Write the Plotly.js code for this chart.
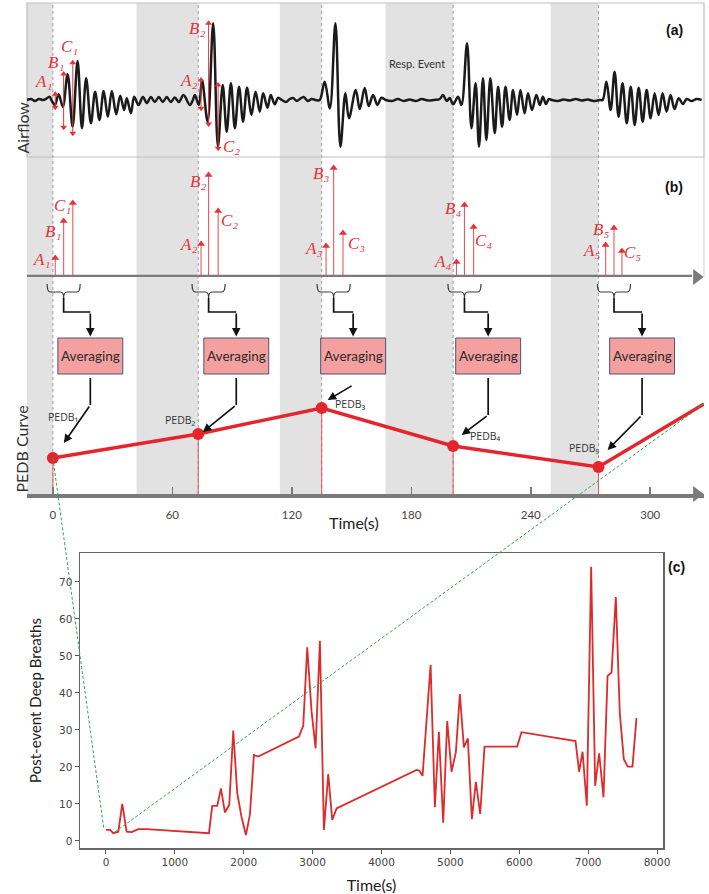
<!DOCTYPE html>
<html>
<head>
<meta charset="utf-8">
<script src="https://cdn.plot.ly/plotly-3.0.1.min.js"></script>
<style>
  html, body { margin: 0; padding: 0; background: #ffffff; }
  #chart { width: 709px; height: 894px; }
</style>
</head>
<body>
<div id="chart"></div>
<script>
// ---------------- data ----------------
// (a) airflow signal: time (s) and flow relative to the resting baseline
const airT = [-13.1, -11.0, -9.0, -7.0, -5.0, -3.5, -1.7, -0.5, 1.0, 2.9, 5.0, 7.4, 9.9, 12.4, 14.6, 16.7, 19.1, 21.2,
  23.4, 25.5, 27.6, 29.6, 31.8, 33.8, 35.8, 37.1, 39.2, 40.8, 43.0, 45.2, 47.2, 49.2, 51.2, 53.2, 55.2, 57.2, 59.2,
  61.2, 63.3, 65.6, 68.8, 70.3, 71.3, 73.3, 74.9, 77.7, 80.5, 82.9, 85.3, 87.3, 89.4, 91.4, 93.5, 95.5, 97.5, 99.7,
  101.8, 103.9, 105.6, 107.8, 109.4, 111.4, 113.1, 115.0, 117.0, 119.0, 120.6, 122.5, 124.0, 126.0, 128.0, 130.0,
  132.0, 134.0, 136.5, 139.1, 141.9, 144.4, 146.9, 148.7, 152.1, 154.1, 156.6, 158.6, 160.8, 163.0, 165.0, 167.2,
  170.2, 173.2, 176.2, 179.2, 182.2, 185.2, 188.3, 191.3, 194.3, 195.9, 197.8, 199.3, 201.0, 203.5, 205.2, 208.0,
  210.2, 212.3, 214.0, 216.0, 217.7, 219.7, 221.9, 223.6, 225.6, 227.3, 229.4, 231.1, 233.1, 234.8, 236.9, 238.6,
  240.6, 242.8, 244.6, 246.1, 247.6, 249.1, 250.5, 253.5, 256.5, 259.5, 262.6, 265.6, 268.6, 271.6, 274.6, 276.1,
  278.0, 280.1, 282.1, 284.1, 286.1, 288.2, 290.2, 292.2, 294.2, 296.2, 298.2, 300.2, 302.2, 304.2, 306.2, 308.2,
  310.2, 312.2, 314.3, 316.4, 318.3, 320.8, 323.3, 325.8];
const airV = [0, 1, -1, 1, 0, 1, 3.3, -1, -5, 5.7, -6.7, 25.7, -26.7, 39, -28.3, 21.7, -23.3, 8.3,
  -20, 9, -16.7, 9, -14.3, 4.3, -10, 1.7, -13.3, 3.3, -5, 3, -3, 3, -2, 3, -2, 3, -2,
  2.5, -2, 5, -5, 0, 5, -5, 20, -21.7, 76.7, -46.7, 15, -31.7, 16.7, -28.3, 13.3, -21.7, 12.3, -15,
  8.3, -11.7, 6.7, -7.7, 5, -4.3, 2.3, 0, -2, 1, 2, -1, 1, 3, -1, 1,
  0, 0, 18.3, -8.3, 76.7, -46.7, 6.7, -18.3, 10, -9, 12, -6, 5, -5, 2.3, 0,
  -1, 1, -1, 0.5, -1, 1, -0.5, 0, 1, 5, -1, 2, -4.3, 3.3, -5, 56.7,
  -28.3, 16.7, -46.7, 21.7, -40, 21.7, -33.3, 13.3, -26.7, 13.3, -20, 10, -15, 10, -13.3, 6.7,
  -10, 5, -5, 3.3, -4, 1, 0, -1, 0.5, -0.5, 1, -0.5, 0.5, -1, 0, 0,
  18.3, -10, 28.3, -16.7, 16.7, -23.3, 13.3, -25, 12.3, -21.7, 10, -18.3, 6.7, -15, 6.7, -11.7,
  5, -9, 1.7, -4, 1, -1, 1, 0];

// respiratory events (shaded) and the end of each event (dashed)
const evStart = [-13, 42, 114, 167, 250];
const evEnd = [0, 73, 135, 201, 274];

// first three post-event breaths: timing (s) and amplitude
const tA = [1.2, 74.4, 137.2, 202.7, 277.6];
const tB = [5.4, 78.2, 141.0, 206.7, 281.8];
const tC = [10.0, 83.0, 145.7, 211.3, 285.8];
const ampA = [19, 33, 31, 15, 32];
const ampB = [56, 102, 109, 72, 49];
const ampC = [74, 66, 44, 50, 26];

// swing of those breaths on the airflow trace for events 1 and 2 (trough, peak)
const loA = [-7.3, -8.3], hiA = [5.7, 20.0];
const loB = [-27.3, -24.0], hiB = [26.0, 76.7];
const loC = [-33.3, -48.3], hiC = [37.3, 15.0];

// PEDB value per event, plus where the curve continues
const pedbV = [36, 60, 86, 48, 27];
const pedbNextT = 327, pedbNextV = 90;

// time-axis ticks of the upper panels
const timeTicks = [0, 60, 120, 180, 240, 300];

// (c) whole-night post-event deep breaths
const pebT = [0, 60, 106, 179, 237, 300, 373, 469, 590, 1495, 1543, 1616, 1669, 1727, 1790, 1848, 1906, 1969,
  2032, 2090, 2148, 2211, 2801, 2864, 2922, 2985, 3043, 3106, 3164, 3227, 3285, 3348, 4509, 4548, 4596, 4713,
  4775, 4833, 4896, 4954, 5017, 5080, 5138, 5196, 5254, 5312, 5370, 5433, 5496, 5969, 6033, 6817, 6869, 6919,
  6981, 7044, 7102, 7160, 7223, 7282, 7340, 7402, 7460, 7518, 7576, 7644, 7702];
const pebV = [3, 3, 2.1, 2.5, 10, 2.5, 2.4, 3.2, 3.2, 2.1, 9.5, 9.5, 14.2, 7.7, 9.8, 29.8, 12.9, 6.4,
  1.6, 7.2, 23.2, 22.8, 28.2, 31.1, 52.3, 35, 25, 54.1, 3, 18.1, 5.7, 8.8, 19.2, 19, 17.6, 47.6,
  9.1, 29.5, 4.9, 32.4, 18.7, 24, 39.7, 25.3, 27.7, 5.9, 16, 7.3, 25.5, 25.5, 29.4, 27, 18.7, 24.1,
  9.5, 74.1, 14.9, 23.7, 11.8, 44.6, 45.5, 65.9, 34.5, 22.1, 20.1, 20.1, 33.2];
const xTicksC = [0, 1000, 2000, 3000, 4000, 5000, 6000, 7000, 8000];
const yTicksC = [0, 10, 20, 30, 40, 50, 60, 70];

// where the zoom connectors land on the whole-night curve
const zoomT = [-29, 106], zoomV = [3, 2.1];

// ---------------- geometry ----------------
const W = 709, H = 894;
const fx = p => p / W;
const fy = p => 1 - p / H;

const X_T = { domain: [fx(27), fx(704)], range: [-13, 327] };
const Y_A = { domain: [fy(157), fy(3)], range: [-57, 97] };
const Y_B = { domain: [fy(277), fy(157)], range: [0, 120] };
const Y_P = { domain: [fy(494), fy(278)], range: [0, 216] };
const X_C = { domain: [fx(80), fx(663)], range: [-377, 8087] };
const Y_C = { domain: [fy(848), fy(553)], range: [-1.9, 77.8] };
const toPaper = (ax, v) => ax.domain[0] + (v - ax.range[0]) / (ax.range[1] - ax.range[0]) * (ax.domain[1] - ax.domain[0]);

// flow-chart layout (x in seconds, y in PEDB-panel units)
const flow = {
  braceHalf: 8.3, braceTop: 210, braceBar: 202, braceNotch: 196, joinY: 182,
  boxTop: 156, boxBottom: 120, boxW: 32.6,
  boxLeft: [2.5, 75.8, 134.5, 202.3, 279.6],
  outStart: [116, 116, 109, 116, 116],
  elbowY: [89, 89, 109, 79, 79],
  tipT: [5.5, 75.3, 138.0, 205.3, 278.6],
  tipY: [51, 62, 94, 59, 44]
};

// label offsets (px) next to the stem tips in panel (b)
const stemLabelShift = {
  A: [[-14, -1], [-13, 0], [-13, -2], [-14, 1], [-14, -5]],
  B: [[-11, -10], [-11, -6], [-13, -5], [-11, -3], [-13, -1]],
  C: [[-10, -2], [11, -9], [13, -10], [10, -13], [11, -1]]
};

const RED = '#e3343b';
const AXIS_GREY = '#7a7a7a';
const SERIF = '"Liberation Serif", "DejaVu Serif", serif';
const SANS = 'Lato, "Open Sans", sans-serif';
const SUBS = ['₀', '₁', '₂', '₃', '₄', '₅', '₆', '₇', '₈', '₉'];

// ---------------- traces ----------------
const traces = [];

// airflow
traces.push({
  x: airT, y: airV, xaxis: 'x', yaxis: 'y', mode: 'lines',
  line: { color: '#1b1b1b', width: 2.5, shape: 'spline', smoothing: 1 }, hoverinfo: 'skip'
});

// double-headed amplitude arrows on the airflow trace
const swing = [[tA, loA, hiA], [tB, loB, hiB], [tC, loC, hiC]];
swing.forEach(([t, lo, hi]) => {
  const xs = [], ys = [];
  lo.forEach((l, i) => { xs.push(t[i], t[i], null); ys.push(l, hi[i], null); });
  traces.push({ x: xs, y: ys, xaxis: 'x', yaxis: 'y', mode: 'lines', line: { color: RED, width: 1 }, hoverinfo: 'skip' });
  traces.push({ x: t.slice(0, hi.length), y: hi, xaxis: 'x', yaxis: 'y', mode: 'markers',
    marker: { symbol: 'triangle-up', size: 6, color: RED }, hoverinfo: 'skip' });
  traces.push({ x: t.slice(0, lo.length), y: lo, xaxis: 'x', yaxis: 'y', mode: 'markers',
    marker: { symbol: 'triangle-down', size: 6, color: RED }, hoverinfo: 'skip' });
});

// (b) breath amplitude stems
[[tA, ampA], [tB, ampB], [tC, ampC]].forEach(([t, a]) => {
  const xs = [], ys = [];
  t.forEach((v, i) => { xs.push(v, v, null); ys.push(0, a[i], null); });
  traces.push({ x: xs, y: ys, xaxis: 'x', yaxis: 'y2', mode: 'lines', line: { color: '#e8585c', width: 1.1 }, hoverinfo: 'skip' });
  traces.push({ x: t, y: a, xaxis: 'x', yaxis: 'y2', mode: 'markers',
    marker: { symbol: 'triangle-up', size: 7, color: RED }, hoverinfo: 'skip' });
});

// (b) time arrow
traces.push({ x: [X_T.range[0], 321], y: [0, 0], xaxis: 'x', yaxis: 'y2', mode: 'lines',
  line: { color: AXIS_GREY, width: 4.5 }, cliponaxis: false, hoverinfo: 'skip' });
traces.push({ x: [323.3], y: [0], xaxis: 'x', yaxis: 'y2', mode: 'markers', cliponaxis: false,
  marker: { symbol: 'triangle-right', size: 14, color: AXIS_GREY }, hoverinfo: 'skip' });

// PEDB drop lines, curve and points
{
  const xs = [], ys = [];
  evEnd.forEach((t, i) => { xs.push(t, t, null); ys.push(0, pedbV[i], null); });
  traces.push({ x: xs, y: ys, xaxis: 'x', yaxis: 'y3', mode: 'lines', line: { color: '#e8585c', width: 1 }, hoverinfo: 'skip' });
}
traces.push({ x: evEnd.concat([pedbNextT]), y: pedbV.concat([pedbNextV]), xaxis: 'x', yaxis: 'y3', mode: 'lines',
  line: { color: '#e4262c', width: 3.5 }, cliponaxis: false, hoverinfo: 'skip' });
traces.push({ x: evEnd, y: pedbV, xaxis: 'x', yaxis: 'y3', mode: 'markers',
  marker: { symbol: 'circle', size: 12, color: '#e4262c' }, hoverinfo: 'skip' });

// time axis arrowhead
traces.push({ x: [323.3], y: [0], xaxis: 'x', yaxis: 'y3', mode: 'markers', cliponaxis: false,
  marker: { symbol: 'triangle-right', size: 14, color: AXIS_GREY }, hoverinfo: 'skip' });

// (c) whole-night curve
traces.push({ x: pebT, y: pebV, xaxis: 'x2', yaxis: 'y4', mode: 'lines',
  line: { color: '#dd2a2a', width: 1.8 }, hoverinfo: 'skip' });

// ---------------- shapes ----------------
const shapes = [];
const topPaper = fy(3), bottomPaper = fy(494);

evStart.forEach((s, i) => {
  shapes.push({ type: 'rect', xref: 'x', yref: 'paper', x0: s, x1: evEnd[i], y0: bottomPaper, y1: topPaper,
    fillcolor: '#e2e2e2', line: { width: 0 }, layer: 'below' });
});
evEnd.forEach(t => {
  shapes.push({ type: 'line', xref: 'x', yref: 'paper', x0: t, x1: t, y0: bottomPaper, y1: topPaper,
    line: { color: '#9c9c9c', width: 1, dash: '3px,3px' }, layer: 'below' });
});

// frames of panels (a) and (b)
shapes.push({ type: 'rect', xref: 'paper', yref: 'paper', x0: X_T.domain[0], x1: X_T.domain[1],
  y0: Y_A.domain[0], y1: Y_A.domain[1], line: { color: '#bdbdbd', width: 1.2 }, layer: 'below' });
shapes.push({ type: 'line', xref: 'paper', yref: 'paper', x0: X_T.domain[1], x1: X_T.domain[1],
  y0: Y_B.domain[0], y1: Y_B.domain[1], line: { color: '#cfcfcf', width: 1 }, layer: 'below' });

// braces, connectors and averaging boxes
tB.forEach((c, i) => {
  const x0 = c - flow.braceHalf, x1 = c + flow.braceHalf;
  const top = flow.braceTop, bar = flow.braceBar, n = flow.braceNotch;
  shapes.push({ type: 'path', xref: 'x', yref: 'y3',
    path: `M ${x0},${top} Q ${x0},${bar} ${x0 + 1.6},${bar} L ${c - 1.6},${bar} Q ${c},${bar} ${c},${n} ` +
          `Q ${c},${bar} ${c + 1.6},${bar} L ${x1 - 1.6},${bar} Q ${x1},${bar} ${x1},${top}`,
    line: { color: '#3a3a3a', width: 1.2 } });
  const bc = flow.boxLeft[i] + flow.boxW / 2;
  shapes.push({ type: 'path', xref: 'x', yref: 'y3',
    path: `M ${c},${n} L ${c},${flow.joinY} L ${bc},${flow.joinY}`,
    line: { color: '#111111', width: 1.7 } });
  shapes.push({ type: 'rect', xref: 'x', yref: 'y3', x0: flow.boxLeft[i], x1: flow.boxLeft[i] + flow.boxW,
    y0: flow.boxBottom, y1: flow.boxTop, fillcolor: '#f4a0a0', line: { color: '#4b5570', width: 1 } });
  shapes.push({ type: 'line', xref: 'x', yref: 'y3', x0: bc, x1: bc, y0: flow.outStart[i], y1: flow.elbowY[i],
    line: { color: '#111111', width: 1.7 } });
});

// zoom connectors between the PEDB curve and the whole-night curve
const green = { color: '#2ea84e', width: 1, dash: '3px,2px' };
shapes.push({ type: 'line', xref: 'paper', yref: 'paper',
  x0: toPaper(X_T, evEnd[0]), y0: toPaper(Y_P, pedbV[0]),
  x1: toPaper(X_C, zoomT[0]), y1: toPaper(Y_C, zoomV[0]), line: green });
shapes.push({ type: 'line', xref: 'paper', yref: 'paper',
  x0: toPaper(X_T, pedbNextT), y0: toPaper(Y_P, pedbNextV),
  x1: toPaper(X_C, zoomT[1]), y1: toPaper(Y_C, zoomV[1]), line: green });

// ---------------- annotations ----------------
const ann = [];
const redLabel = (text, x, yref, y, xs, ys) => ({
  text, x, y, xref: 'x', yref, showarrow: false, xshift: xs, yshift: ys,
  font: { family: SERIF, size: 17, color: RED, style: 'italic' }
});
const sub = (l, k) => l + SUBS[k];

// labels on the airflow arrows
ann.push(redLabel(sub('A', 1), tA[0], 'y', hiA[0], -12, 13));
ann.push(redLabel(sub('B', 1), tB[0], 'y', hiB[0], -8, 12));
ann.push(redLabel(sub('C', 1), tC[0], 'y', hiC[0], -3, 16));
ann.push(redLabel(sub('A', 2), tA[1], 'y', hiA[1], -13, 0));
ann.push(redLabel(sub('B', 2), tB[1], 'y', hiB[1], -12, -5));
ann.push(redLabel(sub('C', 2), tC[1], 'y', loC[1], 13, 2));

// labels on the stems
tA.forEach((t, i) => {
  const k = i + 1;
  ann.push(redLabel(sub('A', k), tA[i], 'y2', ampA[i], stemLabelShift.A[i][0], stemLabelShift.A[i][1]));
  ann.push(redLabel(sub('B', k), tB[i], 'y2', ampB[i], stemLabelShift.B[i][0], stemLabelShift.B[i][1]));
  ann.push(redLabel(sub('C', k), tC[i], 'y2', ampC[i], stemLabelShift.C[i][0], stemLabelShift.C[i][1]));
});

// flow-chart arrows and texts
const pedbShift = [[10, 41], [-18, 14], [29, 4], [32, 10], [-14, 19]];
tB.forEach((c, i) => {
  const bc = flow.boxLeft[i] + flow.boxW / 2;
  ann.push({ x: bc, y: flow.boxTop + 1.5, xref: 'x', yref: 'y3', ax: bc, ay: flow.joinY, axref: 'x', ayref: 'y3',
    showarrow: true, arrowhead: 2, arrowsize: 1, arrowwidth: 1.7, arrowcolor: '#111111', text: '' });
  ann.push({ x: flow.tipT[i], y: flow.tipY[i], xref: 'x', yref: 'y3', ax: bc, ay: flow.elbowY[i], axref: 'x', ayref: 'y3',
    showarrow: true, arrowhead: 2, arrowsize: 1, arrowwidth: 1.7, arrowcolor: '#111111', text: '' });
  ann.push({ text: 'Averaging', x: bc, y: (flow.boxTop + flow.boxBottom) / 2, xref: 'x', yref: 'y3', showarrow: false,
    font: { family: SANS, size: 13.5, color: '#2a2a2a' } });
  ann.push({ text: 'PEDB' + SUBS[i + 1], x: evEnd[i], y: pedbV[i], xref: 'x', yref: 'y3', showarrow: false,
    xshift: pedbShift[i][0], yshift: pedbShift[i][1],
    font: { family: '"Open Sans", "DejaVu Sans", sans-serif', size: 10.5, color: '#333333' } });
});

ann.push({ text: 'Resp. Event', x: 183, y: fy(55), xref: 'x', yref: 'paper', showarrow: false,
  font: { family: SANS, size: 11, color: '#333333' } });
ann.push({ text: '(a)', x: fx(685), y: fy(20), xref: 'paper', yref: 'paper', showarrow: false,
  font: { family: '"Liberation Sans", Arial, sans-serif', size: 14, color: '#111111', weight: 'bold' } });
ann.push({ text: '(b)', x: fx(685), y: fy(177), xref: 'paper', yref: 'paper', showarrow: false,
  font: { family: '"Liberation Sans", Arial, sans-serif', size: 14, color: '#111111', weight: 'bold' } });
ann.push({ text: '(c)', x: fx(687), y: fy(567), xref: 'paper', yref: 'paper', showarrow: false,
  font: { family: '"Liberation Sans", Arial, sans-serif', size: 14, color: '#111111', weight: 'bold' } });
ann.push({ text: 'Airflow', x: fx(10), y: fy(100), xref: 'paper', yref: 'paper', showarrow: false, textangle: -90,
  font: { family: SANS, size: 16, color: '#333333' } });
ann.push({ text: 'PEDB Curve', x: fx(9), y: fy(449), xref: 'paper', yref: 'paper', showarrow: false, textangle: -90,
  font: { family: SANS, size: 16, color: '#333333' } });
ann.push({ text: 'Time(s)', x: fx(354), y: fy(522), xref: 'paper', yref: 'paper', showarrow: false,
  font: { family: SANS, size: 16, color: '#222222' } });

// ---------------- layout ----------------
const hidden = { visible: false, fixedrange: true };
const layout = {
  width: W, height: H,
  margin: { l: 0, r: 0, t: 0, b: 0, pad: 0 },
  paper_bgcolor: '#ffffff', plot_bgcolor: 'rgba(0,0,0,0)',
  showlegend: false, hovermode: false,
  font: { family: SANS },
  xaxis: {
    domain: X_T.domain, range: X_T.range, anchor: 'y3', showgrid: false, zeroline: false,
    showline: true, linecolor: AXIS_GREY, linewidth: 4,
    ticks: 'inside', ticklen: 7, tickwidth: 1.5, tickcolor: AXIS_GREY,
    tickmode: 'array', tickvals: timeTicks, ticklabelstandoff: 7,
    tickfont: { family: SANS, size: 11.5, color: '#444444' }, automargin: false
  },
  yaxis: Object.assign({ domain: Y_A.domain, range: Y_A.range, anchor: 'x' }, hidden),
  yaxis2: Object.assign({ domain: Y_B.domain, range: Y_B.range, anchor: 'x' }, hidden),
  yaxis3: Object.assign({ domain: Y_P.domain, range: Y_P.range, anchor: 'x' }, hidden),
  xaxis2: {
    domain: X_C.domain, range: X_C.range, anchor: 'y4', showgrid: false, zeroline: false,
    showline: true, mirror: true, linecolor: '#666666', linewidth: 1.5,
    ticks: 'outside', ticklen: 4, tickwidth: 1, tickcolor: '#555555',
    tickmode: 'array', tickvals: xTicksC,
    tickfont: { family: '"DejaVu Sans", sans-serif', size: 10.5, color: '#444444' },
    title: { text: 'Time(s)', font: { family: SANS, size: 16, color: '#222222' }, standoff: 12 },
    automargin: false
  },
  yaxis4: {
    domain: Y_C.domain, range: Y_C.range, anchor: 'x2', showgrid: false, zeroline: false,
    showline: true, mirror: true, linecolor: '#666666', linewidth: 1.5,
    ticks: 'outside', ticklen: 4, tickwidth: 1, tickcolor: '#555555',
    tickmode: 'array', tickvals: yTicksC,
    tickfont: { family: '"DejaVu Sans", sans-serif', size: 10.5, color: '#444444' },
    title: { text: 'Post-event Deep Breaths', font: { family: SANS, size: 15, color: '#222222' }, standoff: 14 },
    automargin: false
  },
  shapes, annotations: ann
};

Plotly.newPlot('chart', traces, layout, { staticPlot: true, displayModeBar: false });
</script>
</body>
</html>
